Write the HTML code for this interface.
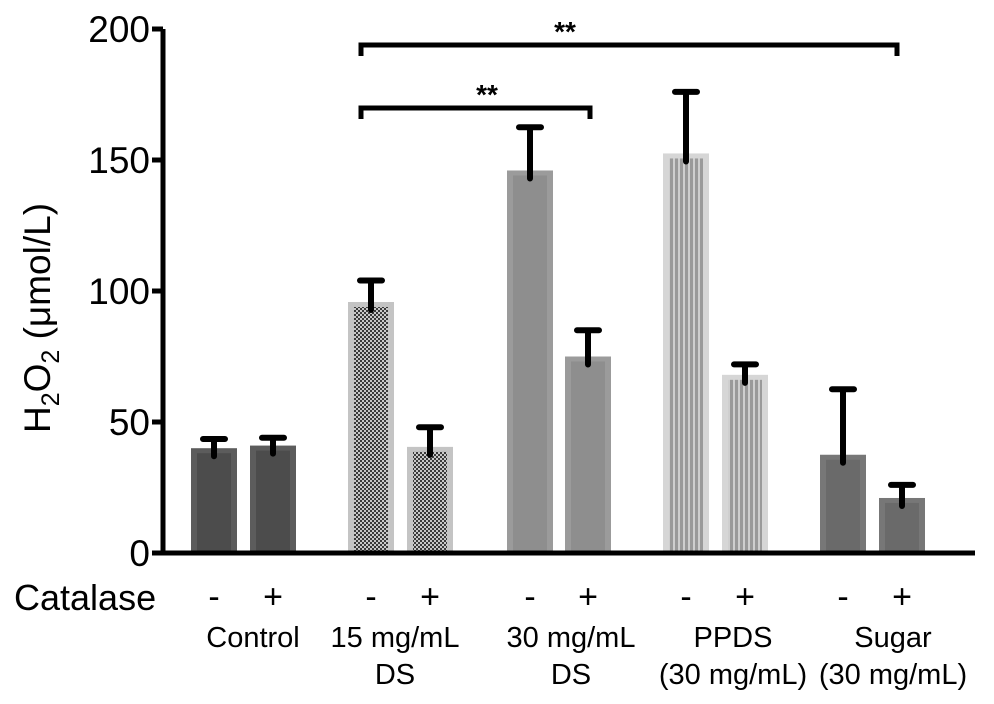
<!DOCTYPE html>
<html><head><meta charset="utf-8"><style>
html,body{margin:0;padding:0;background:#fff;}
svg{display:block;font-family:"Liberation Sans",Arial,sans-serif;}
</style></head><body>
<svg id="chart" width="994" height="704" viewBox="0 0 994 704">
<defs>
<pattern id="checker" width="4" height="4" patternUnits="userSpaceOnUse">
<rect width="4" height="4" fill="#c8c8c8"/><rect width="2" height="2" fill="#3a3a3a"/><rect x="2" y="2" width="2" height="2" fill="#3a3a3a"/>
</pattern>
<pattern id="stripes" width="5" height="10" patternUnits="userSpaceOnUse">
<rect width="5" height="10" fill="#cfcfcf"/><rect width="3" height="10" fill="#9a9a9a"/>
</pattern>
</defs>
<g id="bars"></g>
<g id="axes"></g>
</svg>
<script>
const groups = ["Control", "15 mg/mL DS", "30 mg/mL DS", "PPDS (30 mg/mL)", "Sugar (30 mg/mL)"];
const catalase = ["-", "+"];
const means = [40, 41, 95.8, 40.5, 146, 75, 152.5, 68, 37.5, 21];
const errors = [3.5, 3, 8.2, 7.5, 16.5, 10, 23.5, 4, 25, 5];
const yTicks = [0, 50, 100, 150, 200];
const barCenters = [214, 273, 371, 430, 530, 588, 686, 745, 843, 902];
const fills = ["#4c4c4c","#4c4c4c","url(#checker)","url(#checker)","#8e8e8e","#8e8e8e","url(#stripes)","url(#stripes)","#6a6a6a","#6a6a6a"];
const borders = ["#5c5c5c","#5c5c5c","#c4c4c4","#c4c4c4","#9b9b9b","#9b9b9b","#d6d6d6","#d6d6d6","#777777","#777777"];
const NS="http://www.w3.org/2000/svg";
const y0=553, yTop=29, yMax=200;
function y(v){return y0-(v/yMax)*(y0-yTop);}
function mk(tag,attrs,parent){const e=document.createElementNS(NS,tag);for(const k in attrs)e.setAttribute(k,attrs[k]);parent.appendChild(e);return e;}
const bars=document.getElementById('bars'), axes=document.getElementById('axes');
const W=46;
means.forEach((m,i)=>{
  const cx=barCenters[i];
  const r=mk('rect',{x:cx-W/2,y:y(m),width:W,height:y0-y(m),fill:borders[i]},bars);
  
  
  const inner=mk('rect',{x:cx-W/2+6,y:y(m)+5,width:W-12,height:y0-y(m)-5,fill:fills[i]},bars);
  
  
  const e=mk('path',{d:`M${cx} ${y(m)+8}V${y(m+errors[i])}M${cx-11} ${y(m+errors[i])}H${cx+11}`,stroke:'#000','stroke-width':6,'stroke-linecap':'round',fill:'none'},bars);
  
  
  const t=mk('text',{x:cx,y:608,'font-size':34,'text-anchor':'middle'},axes);
  t.textContent=catalase[i%2];
  
  
});
const ax=mk('path',{d:`M163 ${yTop}V${y0}H975`,stroke:'#000','stroke-width':5,fill:'none'},axes);


yTicks.forEach(v=>{
  const tk=mk('line',{x1:152,x2:163,y1:y(v),y2:y(v),stroke:'#000','stroke-width':5},axes);
  
  
  const t=mk('text',{x:150,y:y(v)+13,'font-size':37,'text-anchor':'end'},axes);
  t.textContent=v;
  
  
});
const groupCenters=[253,395,571,733,893];
groups.forEach((g,i)=>{
  let lines=g==="Control"?["Control"]:g.startsWith("15")?["15 mg/mL","DS"]:g.startsWith("30")?["30 mg/mL","DS"]:[g.split(" (")[0],"("+g.split(" (")[1]];
  lines.forEach((l,j)=>{
    const t=mk('text',{x:groupCenters[i],y:647+j*37,'font-size':29,'text-anchor':'middle'},axes);
    t.textContent=l;
    
    
  });
});
const cat=mk('text',{x:14,y:610,'font-size':36},axes);
cat.textContent="Catalase";


const yt=mk('text',{transform:'translate(50,318) rotate(-90)','font-size':37,'text-anchor':'middle'},axes);
yt.innerHTML='H<tspan font-size="25" dy="9">2</tspan><tspan dy="-9">O</tspan><tspan font-size="25" dy="9">2</tspan><tspan dy="-9"> (μmol/L)</tspan>';


[[361,897,45,565],[361,590,108,487]].forEach((b,i)=>{
  const p=mk('path',{d:`M${b[0]} ${b[2]+11}V${b[2]}H${b[1]}V${b[2]+11}`,stroke:'#000','stroke-width':5,fill:'none'},axes);
  
  
  const t=mk('text',{x:b[3],y:b[2]-4,'font-size':28,'font-weight':'bold','text-anchor':'middle'},axes);
  t.textContent="**";
  
  
});
</script>
</body></html>
